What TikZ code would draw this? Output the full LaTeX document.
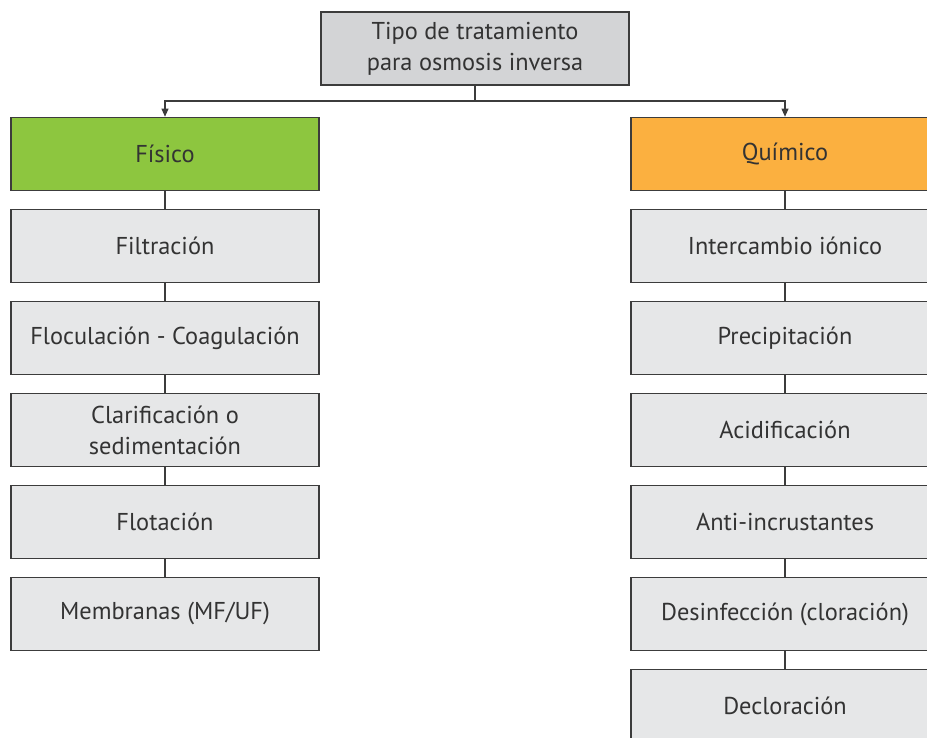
\documentclass[tikz,border=0pt]{standalone}
\usepackage{fontspec}
\setmainfont{PT Sans}
\usepackage{tikz}
\usetikzlibrary{arrows.meta}
\definecolor{boxgray}{HTML}{E6E7E8}
\definecolor{topgray}{HTML}{D3D4D6}
\definecolor{linegray}{HTML}{3C3C3C}
\definecolor{textgray}{HTML}{333333}
\definecolor{fisgreen}{HTML}{8DC63F}
\definecolor{quiorange}{HTML}{FBB040}

\begin{document}
\begin{tikzpicture}[x=0.03cm,y=-0.03cm,font=\fontsize{20.8}{26.5}\selectfont,
  box/.style={draw=linegray,line width=1.3pt,fill=boxgray,text=textgray,
    minimum width=9.24cm,minimum height=2.19cm,align=center,inner sep=0pt},
  link/.style={draw=linegray,line width=1.1pt}]
\useasboundingbox (0,0) rectangle (927,738);
\node[box,fill=topgray] (top) at (475,48.5) {Tipo de tratamiento\\para osmosis inversa};
\node[box,fill=fisgreen] (fisico) at (165,154) {Físico};
\node[box,fill=quiorange] (quimico) at (785,154) {Químico};
\node[box] (filtracion) at (165,246) {Filtración};
\node[box] (floculacion) at (165,338) {Floculación - Coagulación};
\node[box] (clarificacion) at (165,430) {Clarificación o\\sedimentación};
\node[box] (flotacion) at (165,522) {Flotación};
\node[box] (membranas) at (165,614) {Membranas (MF/UF)};
\node[box] (intercambio) at (785,246) {Intercambio iónico};
\node[box] (precipitacion) at (785,338) {Precipitación};
\node[box] (acidificacion) at (785,430) {Acidificación};
\node[box] (anti) at (785,522) {Anti-incrustantes};
\node[box] (desinfeccion) at (785,614) {Desinfección (cloración)};
\node[box] (decloracion) at (785,706) {Decloración};
\coordinate (split) at (475,101);
\draw[link,-{Triangle[length=7pt,width=6pt]}] (top.south) -- (split) -| (fisico.north);
\draw[link,-{Triangle[length=7pt,width=6pt]}] (split) -| (quimico.north);
\draw[link] (fisico.south) -- (filtracion.north);
\draw[link] (filtracion.south) -- (floculacion.north);
\draw[link] (floculacion.south) -- (clarificacion.north);
\draw[link] (clarificacion.south) -- (flotacion.north);
\draw[link] (flotacion.south) -- (membranas.north);
\draw[link] (quimico.south) -- (intercambio.north);
\draw[link] (intercambio.south) -- (precipitacion.north);
\draw[link] (precipitacion.south) -- (acidificacion.north);
\draw[link] (acidificacion.south) -- (anti.north);
\draw[link] (anti.south) -- (desinfeccion.north);
\draw[link] (desinfeccion.south) -- (decloracion.north);
\end{tikzpicture}
\end{document}
